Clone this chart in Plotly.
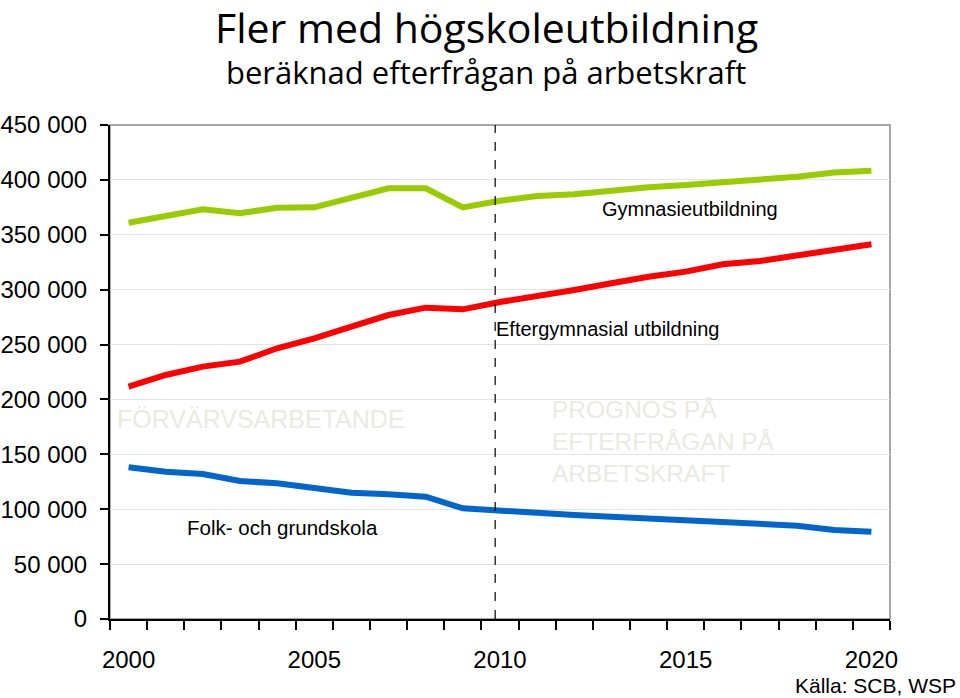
import plotly.graph_objects as go

years = list(range(2000, 2021))
gymnasie = [361000, 366500, 373200, 369600, 374700, 375000, 383200, 392300, 392300, 375000,
            381000, 385300, 386900, 390200, 393200, 395300, 397400, 400800, 402900, 406800, 408400]
eftergymnasial = [211600, 222300, 229900, 234400, 246600, 255700, 266300, 276900, 283600, 282100,
                  288800, 293600, 299700, 305800, 311800, 316400, 323100, 326100, 331600, 336100, 341300]
folk_grund = [138200, 134200, 132100, 125700, 123600, 119000, 115000, 113600, 111400, 100800,
              99300, 96800, 94700, 93200, 91700, 90200, 88600, 87100, 85000, 81100, 79500]

y_ticks = [0, 50000, 100000, 150000, 200000, 250000, 300000, 350000, 400000, 450000]
y_labels = ["0", "50 000", "100 000", "150 000", "200 000", "250 000", "300 000", "350 000", "400 000", "450 000"]
x_ticks = [2000, 2005, 2010, 2015, 2020]
forecast_start = 2009.87

AX = "Liberation Sans, Arial, sans-serif"
TF = "Open Sans, Lato, Calibri, sans-serif"

W, H = 960, 698

fig = go.Figure()
fig.add_trace(go.Scatter(x=years, y=gymnasie, mode="lines", line=dict(color="#99CC00", width=6),
                         name="Gymnasieutbildning"))
fig.add_trace(go.Scatter(x=years, y=eftergymnasial, mode="lines", line=dict(color="#FF0000", width=6),
                         name="Eftergymnasial utbildning"))
fig.add_trace(go.Scatter(x=years, y=folk_grund, mode="lines", line=dict(color="#0066CC", width=6),
                         name="Folk- och grundskola"))

# forecast divider
fig.add_shape(type="line", x0=forecast_start, x1=forecast_start, y0=0, y1=450000,
              xref="x", yref="y", line=dict(color="black", width=1.2, dash="dash"))
# plot border (top/right)
fig.add_shape(type="rect", x0=0, x1=1, y0=0, y1=1, xref="paper", yref="paper",
              line=dict(color="#8a8a8a", width=1.5), layer="below")

faint = "#EAEAE2"
anns = [
    dict(text="Fler med högskoleutbildning", y=27, size=41, font=TF, color="black", xanchor="center", px=486),
    dict(text="beräknad efterfrågan på arbetskraft", y=72, size=31, font=TF, color="black", xanchor="center", px=486),
    dict(text="Gymnasieutbildning", y=209, size=20, font=AX, color="black", xanchor="left", px=600),
    dict(text="Eftergymnasial utbildning", y=329, size=20, font=AX, color="black", xanchor="left", px=494),
    dict(text="Folk- och grundskola", y=527, size=20.5, font=AX, color="black", xanchor="left", px=185),
    dict(text="FÖRVÄRVSARBETANDE", y=419, size=25, font=AX, color=faint, xanchor="left", px=115),
    dict(text="PROGNOS PÅ<br>EFTERFRÅGAN PÅ<br>ARBETSKRAFT", y=441, size=24.5, font=AX, color=faint,
         xanchor="left", px=550),
    dict(text="Källa: SCB, WSP", y=685, size=21, font=AX, color="black", xanchor="right", px=958),
]
L, R, T, B = 110, 890, 125, 619  # pixel positions of the plot area
for a in anns:
    fig.add_annotation(
        text=a["text"], showarrow=False, xref="paper", yref="paper",
        x=(a["px"] - L) / (R - L), y=(B - a["y"]) / (B - T),
        xanchor=a["xanchor"], yanchor="middle", align="left",
        font=dict(family=a["font"], size=a["size"], color=a["color"]),
    )

fig.update_layout(
    width=W, height=H,
    margin=dict(l=L, r=W - R, t=T, b=H - B, autoexpand=False),
    paper_bgcolor="white", plot_bgcolor="white",
    showlegend=False,
    xaxis=dict(range=[1999.5, 2020.5], tickmode="array", tickvals=x_ticks,
               ticktext=[str(v) for v in x_ticks], ticks="", showgrid=False, zeroline=False,
               showline=True, linecolor="black", linewidth=2, automargin=False,
               tickfont=dict(family=AX, size=24, color="black"), ticklabelstandoff=18,
               minor=dict(tickmode="linear", tick0=1999.5, dtick=1, ticks="outside", ticklen=9,
                          tickcolor="black", tickwidth=1.5, showgrid=False)),
    yaxis=dict(range=[0, 450000], tickmode="array", tickvals=y_ticks, ticktext=y_labels,
               ticks="outside", ticklen=8, tickcolor="black", tickwidth=1.5, automargin=False,
               showgrid=True, gridcolor="#E3E3E3", gridwidth=1, zeroline=False,
               showline=True, linecolor="black", linewidth=2,
               tickfont=dict(family=AX, size=24, color="black"), ticklabelstandoff=8),
)

fig.write_html("out.html", config={"displayModeBar": False},
               post_script="document.body.style.margin='0px';document.body.style.overflow='hidden';")
